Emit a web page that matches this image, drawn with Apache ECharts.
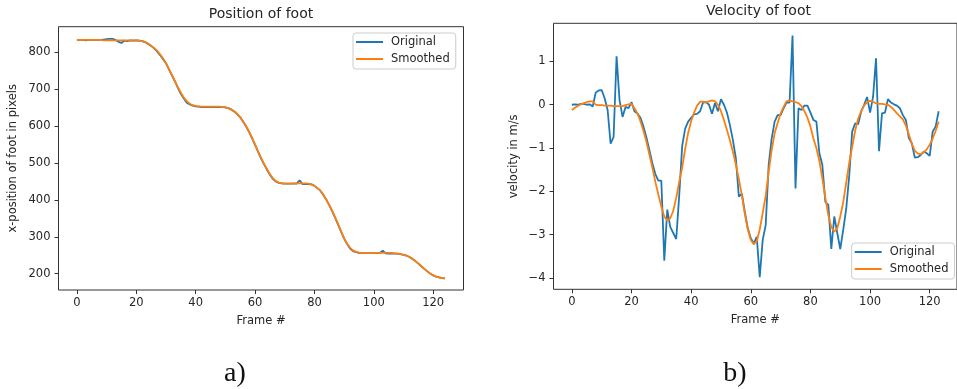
<!DOCTYPE html>
<html><head><meta charset="utf-8">
<script src="https://cdn.jsdelivr.net/npm/echarts@6/dist/echarts.min.js"></script>
<style>html,body{margin:0;padding:0;background:#fff}#c{width:957px;height:389px}</style>
</head><body><div id="c"></div>
<script>
// ---- data ----
const posOriginal = [
834,834,834,833,834,834,834,834,834,
835,836,837,837,834,829,826,832,831,833,832,833,
832,831,828,823,818,811,803,793,782,771,
754,738,722,704,688,675,664,659,656,654,
653,652,652,652,652,652,652,652,652,651,
649,645,640,633,624,612,599,584,567,549,
531,513,497,482,468,457,450,446,445,444,
444,444,444,444,453,443,443,443,442,438,
432,425,413,400,385,369,351,332,313,295,
280,268,261,258,256,256,256,256,256,256,
256,256,262,255,254,254,254,254,253,251,
249,245,240,234,227,220,213,206,200,195,
192,190,188,187];
const posSmoothed = [
834,834,834,834,834,834,834,834,834,
833,833,833,833,833,833,833,833,833,833,833,833,
832,831,828,824,818,812,805,795,784,771,
755,739,722,706,691,678,668,661,657,655,
654,653,653,653,653,653,653,653,652,651,
649,645,640,633,624,613,600,585,568,550,
532,514,498,484,470,459,451,447,445,444,
444,444,445,445,445,445,445,444,442,438,
432,425,414,401,386,370,352,334,314,296,
281,270,263,259,257,256,256,256,256,256,
256,256,256,256,256,256,255,254,253,251,
249,245,240,234,227,220,213,206,200,195,
192,190,188,187];
const velOriginal = [
0.0,0.01,0.0,0.02,0.02,0.0,0.01,-0.04,0.28,0.33,
0.34,0.15,-0.12,-0.9,-0.74,1.12,0.1,-0.28,-0.05,-0.08,
0.06,-0.15,-0.2,-0.3,-0.5,-0.75,-1.05,-1.35,-1.6,-1.75,
-1.75,-3.6,-2.42,-2.82,-2.96,-3.1,-2.1,-0.95,-0.55,-0.39,
-0.3,-0.22,-0.21,-0.15,0.05,0.06,0.0,-0.21,0.04,-0.15,
0.13,0.0,-0.18,-0.47,-0.81,-1.24,-2.12,-2.05,-2.47,-2.85,
-3.08,-3.2,-3.05,-3.98,-3.12,-2.78,-1.39,-0.78,-0.39,-0.24,
-0.24,-0.08,0.05,0.05,1.6,-1.93,-0.08,-0.12,-0.02,-0.02,
-0.18,-0.35,-0.39,-1.12,-1.39,-2.24,-2.31,-3.33,-2.58,-2.96,
-3.33,-2.89,-2.4,-1.65,-0.62,-0.43,-0.45,-0.16,0.0,0.18,
-0.18,0.18,1.07,-1.07,-0.2,-0.18,0.13,0.05,0.01,-0.02,
-0.08,-0.24,-0.35,-0.77,-0.89,-1.22,-1.21,-1.16,-1.08,-1.12,
-1.18,-0.62,-0.5,-0.15];
const velSmoothed = [
-0.12,-0.07,-0.03,0.01,0.04,0.06,0.08,0.08,0.0,-0.01,
-0.01,-0.02,-0.02,-0.02,-0.03,-0.03,-0.03,-0.03,-0.01,0.01,
0.02,-0.08,-0.2,-0.38,-0.6,-0.85,-1.15,-1.45,-1.78,-2.07,
-2.35,-2.58,-2.68,-2.62,-2.45,-2.15,-1.78,-1.45,-1.02,-0.65,
-0.38,-0.18,-0.02,0.07,0.07,0.06,0.08,0.1,0.08,0.0,
-0.15,-0.35,-0.58,-0.82,-1.08,-1.38,-1.72,-2.08,-2.52,-2.88,
-3.12,-3.22,-3.15,-2.88,-2.5,-2.1,-1.55,-1.05,-0.66,-0.42,
-0.2,-0.05,0.08,0.1,0.08,0.06,0.04,-0.03,-0.15,-0.3,
-0.5,-0.78,-1.0,-1.3,-1.7,-2.15,-2.55,-2.82,-2.93,-2.85,
-2.58,-2.25,-1.8,-1.35,-0.97,-0.6,-0.32,-0.15,-0.02,0.06,
0.09,0.07,0.03,0.02,0.02,0.01,0.0,-0.05,-0.12,-0.2,
-0.27,-0.34,-0.48,-0.68,-0.9,-1.06,-1.13,-1.14,-1.1,-1.03,
-0.92,-0.78,-0.6,-0.39];
const xTicks = [0,20,40,60,80,100,120];
const posTicks = [200,300,400,500,600,700,800];
const velTicks = [-4,-3,-2,-1,0,1];
const seriesNames = ['Original','Smoothed'];

// ---- chart ----
const FONT = 'DejaVu Sans';
const TXT = '#262626';
const AX = '#333';
const BLUE = '#1f77b4', ORANGE = '#ff7f0e';
const toPairs = arr => arr.map((v, i) => [i, v]);
const fmt = v => String(v).replace('-', '\u2212');

function xAxis(grid, min, max, ticks) {
  return {
    type: 'value', gridIndex: grid, min: min, max: max,
    name: 'Frame #', nameLocation: 'middle', nameGap: 25,
    nameTextStyle: {fontFamily: FONT, fontSize: 11.5, color: TXT},
    splitLine: {show: false},
    axisLine: {show: false, onZero: false},
    axisTick: {show: true, inside: false, length: 4, customValues: ticks, lineStyle: {color: AX, width: 1}},
    axisLabel: {customValues: ticks, margin: 7, fontFamily: FONT, fontSize: 11.5, color: TXT, formatter: fmt}
  };
}
function yAxis(grid, min, max, ticks, name, gap) {
  return {
    type: 'value', gridIndex: grid, min: min, max: max,
    name: name, nameLocation: 'middle', nameGap: gap,
    nameTextStyle: {fontFamily: FONT, fontSize: 11.5, color: TXT},
    splitLine: {show: false},
    axisLine: {show: false, onZero: false},
    axisTick: {show: true, inside: false, length: 4, customValues: ticks, lineStyle: {color: AX, width: 1}},
    axisLabel: {customValues: ticks, margin: 8, fontFamily: FONT, fontSize: 11.5, color: TXT, formatter: fmt}
  };
}
function legend(left, top) {
  return {
    left: left, top: top, orient: 'vertical',
    padding: [3, 6, 4, 3], itemGap: 5, itemWidth: 27, itemHeight: 14,
    icon: 'path://M0,0L27,0L27,2L0,2Z', symbolKeepAspect: true,
    backgroundColor: 'rgba(255,255,255,0.8)', borderColor: '#ccc', borderWidth: 1, borderRadius: 3,
    textStyle: {fontFamily: FONT, fontSize: 11.5, color: TXT, padding: [0, 0, 0, 3]},
    data: seriesNames
  };
}
function line(name, data, color, xi, z) {
  return {
    type: 'line', name: name, data: data, xAxisIndex: xi, yAxisIndex: xi,
    symbol: 'none', showSymbol: false, smooth: false, z: z,
    lineStyle: {color: color, width: 1.8}, itemStyle: {color: color},
    emphasis: {disabled: true}
  };
}

const chart = echarts.init(document.getElementById('c'));
chart.setOption({
  animation: false,
  backgroundColor: '#fff',
  title: [
    {text: 'Position of foot', left: 261, top: 7, textAlign: 'center', padding: 0,
     textStyle: {fontFamily: FONT, fontSize: 14, fontWeight: 'normal', color: TXT}},
    {text: 'Velocity of foot', left: 758.5, top: 4, textAlign: 'center', padding: 0,
     textStyle: {fontFamily: FONT, fontSize: 14, fontWeight: 'normal', color: TXT}}
  ],
  grid: [
    {left: 58.5, top: 26.7, width: 405, height: 263.3, show: true, borderColor: AX, borderWidth: 1, backgroundColor: 'transparent', containLabel: false},
    {left: 553.5, top: 23.3, width: 410, height: 266, show: true, borderColor: AX, borderWidth: 1, backgroundColor: 'transparent', containLabel: false}
  ],
  xAxis: [xAxis(0, -6.2, 130.2, xTicks), xAxis(1, -6.15, 129.15, xTicks)],
  yAxis: [
    yAxis(0, 155.5, 870, posTicks, 'x-position of foot in pixels', 39),
    yAxis(1, -4.26, 1.88, velTicks, 'velocity in m/s', 33)
  ],
  legend: [legend(353, 33), legend(851.7, 243)],
  series: [
    line(seriesNames[0], toPairs(posOriginal), BLUE, 0, 2),
    line(seriesNames[1], toPairs(posSmoothed), ORANGE, 0, 3),
    line(seriesNames[0], toPairs(velOriginal), BLUE, 1, 2),
    line(seriesNames[1], toPairs(velSmoothed), ORANGE, 1, 3)
  ],
  graphic: [
    {type: 'text', x: 235, y: 374, style: {text: 'a)', font: '28px "Liberation Serif", serif', fill: '#111', align: 'center', verticalAlign: 'middle', textAlign: 'center', textVerticalAlign: 'middle'}},
    {type: 'text', x: 735, y: 374, style: {text: 'b)', font: '28px "Liberation Serif", serif', fill: '#111', align: 'center', verticalAlign: 'middle', textAlign: 'center', textVerticalAlign: 'middle'}}
  ]
});
</script>
</body></html>
